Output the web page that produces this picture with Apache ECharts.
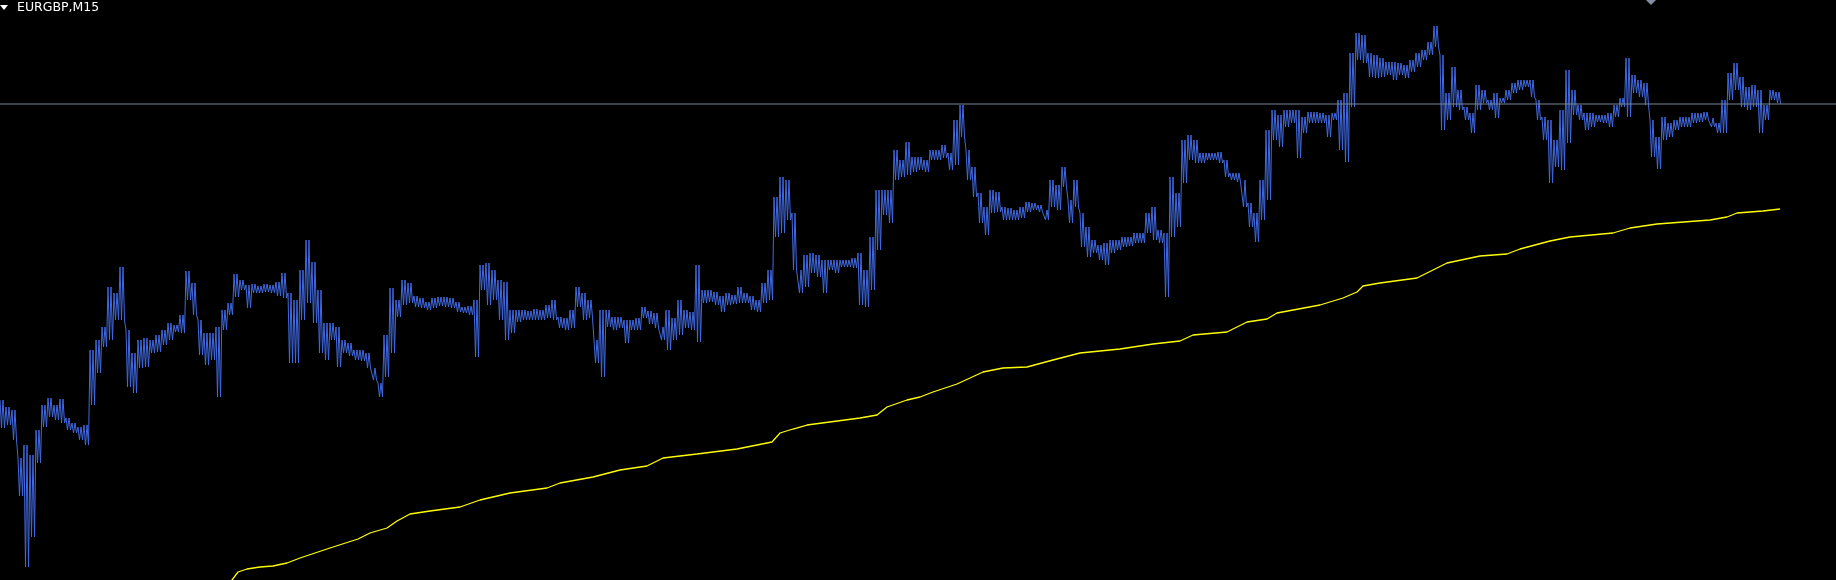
<!DOCTYPE html>
<html>
<head>
<meta charset="utf-8">
<title>EURGBP,M15</title>
<script src="https://cdn.jsdelivr.net/npm/echarts@6/dist/echarts.min.js"></script>
<style>
  html, body { margin: 0; padding: 0; background: #000; }
  #chart { width: 1836px; height: 580px; }
</style>
</head>
<body>
<div id="chart"></div>
<script>
// chart caption
const symbolTitle = "EURGBP,M15";

// close prices, read per block of 6 bars: top and bottom of the traced band
const blockBars = 6;
const highs = [
  0.86600, 0.86593, 0.86590, 0.86542, 0.86555, 0.86545, 0.86570, 0.86595, 0.86602, 0.86595,
  0.86601, 0.86582, 0.86577, 0.86573, 0.86575, 0.86650, 0.86660, 0.86673, 0.86713, 0.86707,
  0.86733, 0.86670, 0.86647, 0.86660, 0.86662, 0.86660, 0.86665, 0.86670, 0.86677, 0.86675,
  0.86685, 0.86729, 0.86717, 0.86680, 0.86667, 0.86667, 0.86673, 0.86690, 0.86697, 0.86726,
  0.86720, 0.86715, 0.86716, 0.86714, 0.86716, 0.86715, 0.86718, 0.86727, 0.86707, 0.86700,
  0.86730, 0.86760, 0.86738, 0.86710, 0.86677, 0.86677, 0.86673, 0.86660, 0.86657, 0.86650,
  0.86650, 0.86647, 0.86632, 0.86617, 0.86665, 0.86712, 0.86700, 0.86720, 0.86717, 0.86704,
  0.86702, 0.86698, 0.86702, 0.86703, 0.86703, 0.86702, 0.86698, 0.86693, 0.86694, 0.86700,
  0.86735, 0.86737, 0.86730, 0.86720, 0.86718, 0.86690, 0.86690, 0.86690, 0.86689, 0.86691,
  0.86690, 0.86695, 0.86700, 0.86683, 0.86682, 0.86690, 0.86713, 0.86707, 0.86700, 0.86660,
  0.86690, 0.86690, 0.86683, 0.86683, 0.86680, 0.86680, 0.86682, 0.86693, 0.86689, 0.86687,
  0.86673, 0.86690, 0.86682, 0.86700, 0.86690, 0.86688, 0.86735, 0.86710, 0.86710, 0.86708,
  0.86704, 0.86707, 0.86705, 0.86713, 0.86707, 0.86704, 0.86700, 0.86717, 0.86730, 0.86803,
  0.86823, 0.86820, 0.86787, 0.86730, 0.86745, 0.86747, 0.86745, 0.86740, 0.86740, 0.86740,
  0.86740, 0.86740, 0.86742, 0.86747, 0.86730, 0.86763, 0.86810, 0.86810, 0.86810, 0.86850,
  0.86840, 0.86858, 0.86843, 0.86843, 0.86840, 0.86850, 0.86850, 0.86855, 0.86847, 0.86880,
  0.86895, 0.86850, 0.86833, 0.86807, 0.86793, 0.86810, 0.86808, 0.86793, 0.86792, 0.86790,
  0.86793, 0.86798, 0.86797, 0.86795, 0.86790, 0.86820, 0.86815, 0.86833, 0.86800, 0.86820,
  0.86787, 0.86773, 0.86760, 0.86755, 0.86757, 0.86760, 0.86760, 0.86763, 0.86763, 0.86767,
  0.86767, 0.86787, 0.86793, 0.86770, 0.86767, 0.86823, 0.86807, 0.86860, 0.86865, 0.86860,
  0.86847, 0.86847, 0.86847, 0.86848, 0.86840, 0.86827, 0.86827, 0.86820, 0.86797, 0.86787,
  0.86820, 0.86870, 0.86890, 0.86885, 0.86890, 0.86890, 0.86890, 0.86883, 0.86888, 0.86888,
  0.86887, 0.86885, 0.86887, 0.86900, 0.86907, 0.86947, 0.86967, 0.86965, 0.86947, 0.86945,
  0.86942, 0.86938, 0.86938, 0.86937, 0.86935, 0.86940, 0.86947, 0.86950, 0.86958, 0.86974,
  0.86945, 0.86907, 0.86933, 0.86910, 0.86893, 0.86887, 0.86915, 0.86910, 0.86900, 0.86907,
  0.86902, 0.86910, 0.86917, 0.86920, 0.86920, 0.86920, 0.86900, 0.86883, 0.86880, 0.86860,
  0.86890, 0.86930, 0.86910, 0.86895, 0.86887, 0.86887, 0.86885, 0.86885, 0.86887, 0.86895,
  0.86902, 0.86942, 0.86925, 0.86920, 0.86917, 0.86880, 0.86863, 0.86883, 0.86877, 0.86880,
  0.86883, 0.86883, 0.86887, 0.86887, 0.86888, 0.86882, 0.86877, 0.86900, 0.86927, 0.86937,
  0.86923, 0.86913, 0.86915, 0.86910, 0.86895, 0.86910, 0.86908
];
const lows = [
  0.86572, 0.86575, 0.86560, 0.86504, 0.86433, 0.86463, 0.86537, 0.86573, 0.86583, 0.86580,
  0.86577, 0.86570, 0.86567, 0.86560, 0.86555, 0.86595, 0.86627, 0.86653, 0.86660, 0.86680,
  0.86680, 0.86613, 0.86607, 0.86632, 0.86633, 0.86647, 0.86648, 0.86655, 0.86660, 0.86668,
  0.86667, 0.86700, 0.86685, 0.86645, 0.86635, 0.86640, 0.86603, 0.86670, 0.86685, 0.86703,
  0.86710, 0.86692, 0.86707, 0.86707, 0.86708, 0.86707, 0.86704, 0.86702, 0.86637, 0.86637,
  0.86680, 0.86697, 0.86677, 0.86647, 0.86640, 0.86660, 0.86633, 0.86647, 0.86644, 0.86640,
  0.86639, 0.86632, 0.86620, 0.86603, 0.86623, 0.86647, 0.86683, 0.86695, 0.86697, 0.86693,
  0.86692, 0.86690, 0.86692, 0.86694, 0.86693, 0.86692, 0.86688, 0.86687, 0.86685, 0.86643,
  0.86710, 0.86695, 0.86700, 0.86680, 0.86660, 0.86667, 0.86678, 0.86680, 0.86680, 0.86680,
  0.86680, 0.86682, 0.86680, 0.86672, 0.86670, 0.86672, 0.86693, 0.86680, 0.86682, 0.86637,
  0.86623, 0.86673, 0.86670, 0.86672, 0.86657, 0.86670, 0.86670, 0.86682, 0.86676, 0.86672,
  0.86660, 0.86650, 0.86660, 0.86665, 0.86672, 0.86670, 0.86658, 0.86697, 0.86698, 0.86695,
  0.86688, 0.86695, 0.86696, 0.86697, 0.86697, 0.86690, 0.86688, 0.86697, 0.86700, 0.86763,
  0.86767, 0.86780, 0.86730, 0.86707, 0.86713, 0.86727, 0.86723, 0.86707, 0.86730, 0.86727,
  0.86733, 0.86733, 0.86732, 0.86695, 0.86693, 0.86710, 0.86750, 0.86785, 0.86777, 0.86820,
  0.86823, 0.86825, 0.86828, 0.86830, 0.86828, 0.86840, 0.86840, 0.86842, 0.86830, 0.86835,
  0.86863, 0.86820, 0.86803, 0.86777, 0.86765, 0.86787, 0.86788, 0.86780, 0.86780, 0.86780,
  0.86782, 0.86788, 0.86790, 0.86788, 0.86780, 0.86793, 0.86790, 0.86813, 0.86777, 0.86793,
  0.86753, 0.86743, 0.86747, 0.86740, 0.86735, 0.86747, 0.86750, 0.86753, 0.86754, 0.86757,
  0.86757, 0.86767, 0.86760, 0.86757, 0.86703, 0.86763, 0.86773, 0.86817, 0.86840, 0.86837,
  0.86837, 0.86840, 0.86840, 0.86837, 0.86823, 0.86820, 0.86818, 0.86793, 0.86773, 0.86758,
  0.86780, 0.86800, 0.86860, 0.86853, 0.86873, 0.86877, 0.86842, 0.86867, 0.86877, 0.86877,
  0.86877, 0.86863, 0.86880, 0.86850, 0.86838, 0.86893, 0.86940, 0.86937, 0.86923, 0.86922,
  0.86923, 0.86925, 0.86920, 0.86925, 0.86922, 0.86928, 0.86933, 0.86940, 0.86945, 0.86953,
  0.86870, 0.86880, 0.86893, 0.86890, 0.86880, 0.86867, 0.86890, 0.86897, 0.86890, 0.86882,
  0.86897, 0.86900, 0.86907, 0.86910, 0.86913, 0.86903, 0.86880, 0.86860, 0.86817, 0.86833,
  0.86830, 0.86857, 0.86885, 0.86880, 0.86870, 0.86873, 0.86878, 0.86877, 0.86873, 0.86883,
  0.86893, 0.86883, 0.86907, 0.86903, 0.86895, 0.86843, 0.86831, 0.86860, 0.86863, 0.86870,
  0.86873, 0.86873, 0.86877, 0.86878, 0.86880, 0.86873, 0.86867, 0.86867, 0.86900, 0.86910,
  0.86893, 0.86890, 0.86893, 0.86867, 0.86880, 0.86900, 0.86897
];
const lastBar = 1780;
const lastClose = 0.86896;

// moving average (yellow), bar number and value
const maBars = [
  225, 232, 238, 247, 260, 273, 287, 300, 330, 358, 370, 387, 397, 410, 430, 460, 480, 510,
  547, 560, 593, 620, 647, 663, 697, 737, 772, 780, 793, 807, 860, 877, 887, 907, 920, 933,
  957, 983, 1003, 1027, 1053, 1080, 1120, 1153, 1180, 1193, 1227, 1247, 1267, 1277, 1320,
  1343, 1357, 1363, 1380, 1417, 1447, 1480, 1507, 1520, 1550, 1570, 1613, 1630, 1657, 1710,
  1727, 1737, 1763, 1780
];
const maPrices = [
  0.86410, 0.86420, 0.86428, 0.86431, 0.86433, 0.86434, 0.86437, 0.86442, 0.86452, 0.86461,
  0.86467, 0.86472, 0.86479, 0.86486, 0.86489, 0.86493, 0.86500, 0.86507, 0.86512, 0.86517,
  0.86523, 0.86530, 0.86534, 0.86542, 0.86546, 0.86551, 0.86558, 0.86567, 0.86571, 0.86575,
  0.86582, 0.86585, 0.86593, 0.86600, 0.86603, 0.86608, 0.86616, 0.86628, 0.86632, 0.86633,
  0.86640, 0.86647, 0.86651, 0.86656, 0.86659, 0.86665, 0.86668, 0.86678, 0.86681, 0.86687,
  0.86695, 0.86702, 0.86708, 0.86714, 0.86717, 0.86722, 0.86737, 0.86744, 0.86746, 0.86751,
  0.86759, 0.86763, 0.86767, 0.86772, 0.86776, 0.86780, 0.86783, 0.86787, 0.86789, 0.86791
];

// visible window
const barsVisible = 1836;
const priceMin = 0.8642;
const priceMax = 0.8700;

// each block is drawn as two swings between its top and bottom
const closeData = [];
highs.forEach((h, i) => {
  const b = i * blockBars;
  closeData.push([b, h], [b + 1.5, lows[i]], [b + 3, h], [b + 4.5, lows[i]]);
});
closeData.push([lastBar, lastClose]);

const maData = maBars.map((b, i) => [b, maPrices[i]]);
const bidData = [[0, lastClose], [barsVisible, lastClose]];

const chart = echarts.init(document.getElementById("chart"));
chart.setOption({
  backgroundColor: "#000000",
  animation: false,
  grid: { left: 0, right: 0, top: 0, bottom: 0 },
  xAxis: { type: "value", min: 0, max: barsVisible, show: false },
  yAxis: { type: "value", min: priceMin, max: priceMax, show: false },
  graphic: [
    {
      type: "polygon",
      shape: { points: [[0, 5], [8, 5], [4, 10]] },
      style: { fill: "#ffffff" },
      silent: true
    },
    {
      type: "text",
      left: 17,
      top: 1,
      style: { text: symbolTitle, fill: "#ffffff", font: "12.5px 'DejaVu Sans'" },
      silent: true
    },
    {
      type: "polygon",
      shape: { points: [[1646, 0], [1656, 0], [1651, 5]] },
      style: { fill: "#7f8fa6" },
      silent: true
    }
  ],
  series: [
    {
      name: "MA",
      type: "line",
      data: maData,
      showSymbol: false,
      lineStyle: { color: "#ffff00", width: 1.3 },
      z: 2
    },
    {
      name: "Close",
      type: "line",
      data: closeData,
      showSymbol: false,
      lineStyle: { color: "#4169e1", width: 1 },
      z: 3
    },
    {
      name: "Bid",
      type: "line",
      data: bidData,
      showSymbol: false,
      silent: true,
      lineStyle: { color: "#778899", width: 1 },
      z: 4
    }
  ]
});
</script>
</body>
</html>
